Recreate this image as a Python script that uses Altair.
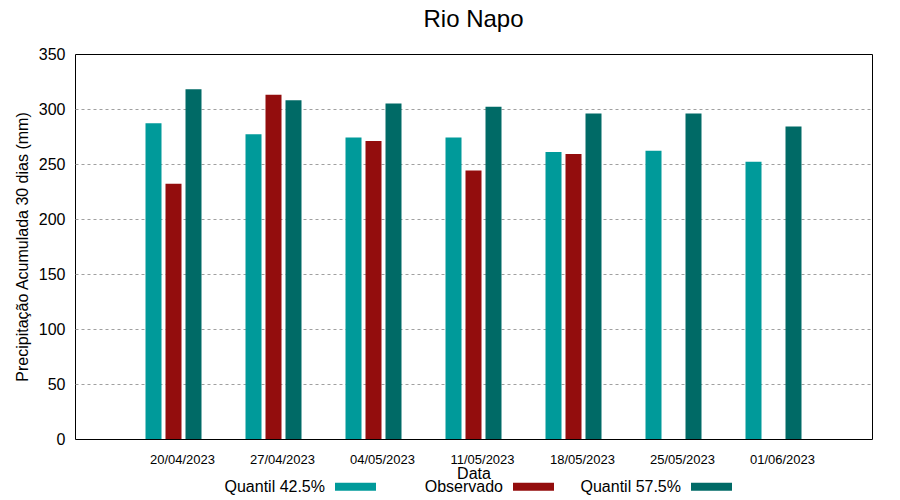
import altair as alt
import pandas as pd

dates = ["20/04/2023", "27/04/2023", "04/05/2023", "11/05/2023", "18/05/2023", "25/05/2023", "01/06/2023"]
series = ["Quantil 42.5%", "Observado", "Quantil 57.5%"]
q425 = [287, 277, 274, 274, 261, 262, 252]
obs = [232, 313, 271, 244, 259, None, None]
q575 = [318, 308, 305, 302, 296, 296, 284]
colors = ["#009a9a", "#930d0d", "#006a66"]

rows = []
for i, d in enumerate(dates):
    for s, vals in zip(series, [q425, obs, q575]):
        if vals[i] is not None:
            rows.append({"Data": d, "Serie": s, "Valor": vals[i]})
df = pd.DataFrame(rows)

FONT = "Liberation Sans"

chart = alt.Chart(df).mark_bar().encode(
    x=alt.X("Data:N", sort=dates,
            scale=alt.Scale(domain=dates, paddingInner=0.04, paddingOuter=0.505),
            axis=alt.Axis(title="Data", labelAngle=0, ticks=False, grid=False,
                          labelFontSize=13, labelFont=FONT, labelColor="black",
                          labelPadding=14, labelOffset=9, titleFont=FONT,
                          titleFontSize=16, titleFontWeight="normal", titleColor="black",
                          titlePadding=-1, domain=False)),
    xOffset=alt.XOffset("Serie:N", sort=series,
                        scale=alt.Scale(domain=series, paddingInner=0.2, paddingOuter=1)),
    y=alt.Y("Valor:Q",
            scale=alt.Scale(domain=[0, 350], nice=False),
            axis=alt.Axis(title="Precipitação Acumulada 30 dias (mm)", values=[0, 50, 100, 150, 200, 250, 300, 350],
                          ticks=False, labelFontSize=16, labelFont=FONT, labelColor="black",
                          labelPadding=10, titleFont=FONT, titleFontSize=16,
                          titleFontWeight="normal", titleColor="black", titlePadding=8,
                          grid=True, gridDash=[3, 3], gridColor="#a0a0a0",
                          gridOpacity=alt.condition("datum.value == 0 || datum.value == 350", alt.value(0), alt.value(1)),
                          domain=False)),
    color=alt.Color("Serie:N", sort=series,
                    scale=alt.Scale(domain=series, range=colors),
                    legend=alt.Legend(title=None, orient="none", direction="horizontal",
                                      legendX=260, legendY=412,
                                      symbolType="M-1,-0.2H1V0.2H-1Z", symbolSize=1681,
                                      symbolStrokeWidth=0, symbolOpacity=1,
                                      labelAlign="right", labelOffset={"expr": "-51"},
                                      labelFont=FONT, labelFontSize=16, labelColor="black",
                                      labelExpr="datum.label == 'Observado' ? '\u00a0\u00a0\u00a0\u00a0\u00a0\u00a0Observado' : datum.label",
                                      gridAlign="all", columnPadding=26, labelLimit=300)),
).properties(
    width=797, height=385,
    title=alt.Title("Rio Napo", font=FONT, fontSize=24, fontWeight="normal", color="black", offset=14),
    autosize=alt.AutoSizeParams(type="none"),
    padding={"left": 67, "top": 46, "right": 20, "bottom": 60},
).configure_view(stroke="black", strokeWidth=1)

chart.save("out.html", embed_options={"renderer": "svg", "actions": False})
